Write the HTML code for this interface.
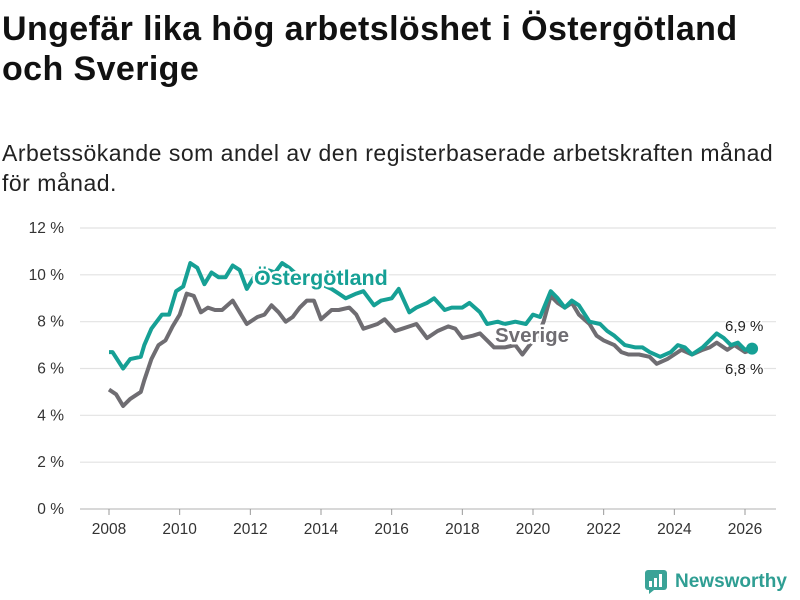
<!DOCTYPE html>
<html><head><meta charset="utf-8"><style>
body{margin:0;width:800px;height:600px;background:#fff;font-family:"Liberation Sans",sans-serif;overflow:hidden;position:relative}
h1{position:absolute;left:2px;top:9px;margin:0;font-size:34px;line-height:40px;font-weight:bold;color:#111;letter-spacing:0.4px;white-space:nowrap}
p{position:absolute;left:2px;top:138px;margin:0;font-size:23px;line-height:30px;color:#222;letter-spacing:0.5px;white-space:nowrap}
</style></head><body>
<h1>Ungefär lika hög arbetslöshet i Östergötland<br>och Sverige</h1>
<p>Arbetssökande som andel av den registerbaserade arbetskraften månad<br>för månad.</p>
<svg id="chart" width="800" height="600" style="position:absolute;left:0;top:0"></svg>
<div style="position:absolute;left:645px;top:570px;display:flex;align-items:center;gap:8px;color:#2f9e93;font-size:19px;font-weight:bold">
<svg width="22" height="24"><rect x="0" y="0" width="22" height="20" rx="3" fill="#3aa397"/><path d="M4 20 L4 24 L9 20Z" fill="#3aa397"/><rect x="4" y="11" width="3" height="6" fill="#fff"/><rect x="9" y="8" width="3" height="9" fill="#fff"/><rect x="14" y="4" width="3" height="13" fill="#fff"/></svg>Newsworthy</div>
<script>
const ostT=[2008.0,2008.1,2008.4,2008.6,2008.9,2009.0,2009.2,2009.5,2009.7,2009.9,2010.1,2010.3,2010.5,2010.7,2010.9,2011.1,2011.3,2011.5,2011.7,2011.9,2012.1,2012.3,2012.5,2012.7,2012.9,2013.1,2013.4,2013.7,2014.0,2014.3,2014.5,2014.7,2015.0,2015.2,2015.5,2015.7,2016.0,2016.2,2016.5,2016.7,2017.0,2017.2,2017.5,2017.7,2018.0,2018.2,2018.5,2018.7,2019.0,2019.2,2019.5,2019.8,2020.0,2020.2,2020.5,2020.7,2020.9,2021.1,2021.3,2021.6,2021.9,2022.1,2022.3,2022.6,2022.9,2023.1,2023.3,2023.6,2023.9,2024.1,2024.3,2024.5,2024.8,2025.0,2025.2,2025.4,2025.6,2025.8,2026.0,2026.2];
const ostV=[6.7,6.7,6.0,6.4,6.5,7.0,7.7,8.3,8.3,9.3,9.5,10.5,10.3,9.6,10.1,9.9,9.9,10.4,10.2,9.4,9.9,9.7,10.2,10.1,10.5,10.3,9.9,9.8,9.6,9.4,9.2,9.0,9.2,9.3,8.7,8.9,9.0,9.4,8.4,8.6,8.8,9.0,8.5,8.6,8.6,8.8,8.4,7.9,8.0,7.9,8.0,7.9,8.3,8.2,9.3,9.0,8.6,8.9,8.7,8.0,7.9,7.6,7.4,7.0,6.9,6.9,6.7,6.5,6.7,7.0,6.9,6.6,6.9,7.2,7.5,7.3,7.0,7.1,6.8,6.9];
const sveT=[2008.0,2008.2,2008.4,2008.6,2008.9,2009.0,2009.2,2009.4,2009.6,2009.8,2010.0,2010.2,2010.4,2010.6,2010.8,2011.0,2011.2,2011.5,2011.7,2011.9,2012.2,2012.4,2012.6,2012.8,2013.0,2013.2,2013.4,2013.6,2013.8,2014.0,2014.3,2014.5,2014.8,2015.0,2015.2,2015.4,2015.6,2015.8,2016.1,2016.3,2016.5,2016.7,2017.0,2017.3,2017.6,2017.8,2018.0,2018.3,2018.5,2018.7,2018.9,2019.2,2019.5,2019.7,2019.9,2020.1,2020.3,2020.5,2020.7,2020.9,2021.1,2021.3,2021.6,2021.8,2022.0,2022.3,2022.5,2022.7,2023.0,2023.3,2023.5,2023.8,2024.0,2024.2,2024.5,2024.8,2025.0,2025.2,2025.5,2025.7,2026.0,2026.2];
const sveV=[5.1,4.9,4.4,4.7,5.0,5.5,6.4,7.0,7.2,7.8,8.3,9.2,9.1,8.4,8.6,8.5,8.5,8.9,8.4,7.9,8.2,8.3,8.7,8.4,8.0,8.2,8.6,8.9,8.9,8.1,8.5,8.5,8.6,8.3,7.7,7.8,7.9,8.1,7.6,7.7,7.8,7.9,7.3,7.6,7.8,7.7,7.3,7.4,7.5,7.2,6.9,6.9,7.0,6.6,7.0,7.3,8.0,9.1,8.8,8.6,8.8,8.3,7.9,7.4,7.2,7.0,6.7,6.6,6.6,6.5,6.2,6.4,6.6,6.8,6.6,6.8,6.9,7.1,6.8,7.0,6.7,6.8];
const yTicks=[0,2,4,6,8,10,12];
const xTicks=[2008,2010,2012,2014,2016,2018,2020,2022,2024,2026];
const NS='http://www.w3.org/2000/svg';
const svg=document.getElementById('chart');
const x=t=>109+(t-2008)*(745-109)/18;
const y=v=>509-v*(509-228)/12;
function mk(tag,attrs){const e=document.createElementNS(NS,tag);for(const k in attrs)e.setAttribute(k,attrs[k]);svg.appendChild(e);return e;}
yTicks.forEach(v=>{
 const l=mk('line',{x1:80,x2:776,y1:y(v),y2:y(v),stroke:v===0?'#ccc':'#e2e2e2','stroke-width':v===0?1.5:1.2});
 
 
 const t=mk('text',{x:64,y:y(v)+5,'text-anchor':'end','font-size':15.5,fill:'#333'});
 t.textContent=v+' %';
 
 
});
xTicks.forEach(v=>{
 const l=mk('line',{x1:x(v),x2:x(v),y1:509,y2:515,stroke:'#999'});
 
 
 const t=mk('text',{x:x(v),y:534,'text-anchor':'middle','font-size':15.5,fill:'#333'});
 t.textContent=v;
 
 
});
function path(T,V){return T.map((t,i)=>(i?'L':'M')+x(t).toFixed(1)+' '+y(V[i]).toFixed(1)).join(' ');}
const ps=mk('path',{d:path(sveT,sveV),fill:'none',stroke:'#6f6d72','stroke-width':4,'stroke-linejoin':'round'});


const po=mk('path',{d:path(ostT,ostV),fill:'none',stroke:'#16a095','stroke-width':4,'stroke-linejoin':'round'});


const c=mk('circle',{cx:x(ostT[ostT.length-1]),cy:y(6.85),r:6,fill:'#16a095'});


function lab(txt,xx,yy,col,name,size,bold){const t=mk('text',{x:xx,y:yy,'font-size':size,'font-weight':bold?'bold':'normal',fill:col,stroke:'#fff','stroke-width':bold?5:3,'paint-order':'stroke','stroke-linejoin':'round'});t.textContent=txt;}
lab('Östergötland',254,285,'#16a095','ostergotland-label',21.5,true);
lab('Sverige',495,342,'#6f6d72','sverige-label',20.5,true);
lab('6,9 %',725,331,'#222','ostergotland-end-value',15,false);
lab('6,8 %',725,374,'#222','sverige-end-value',15,false);
</script>
</body></html>
